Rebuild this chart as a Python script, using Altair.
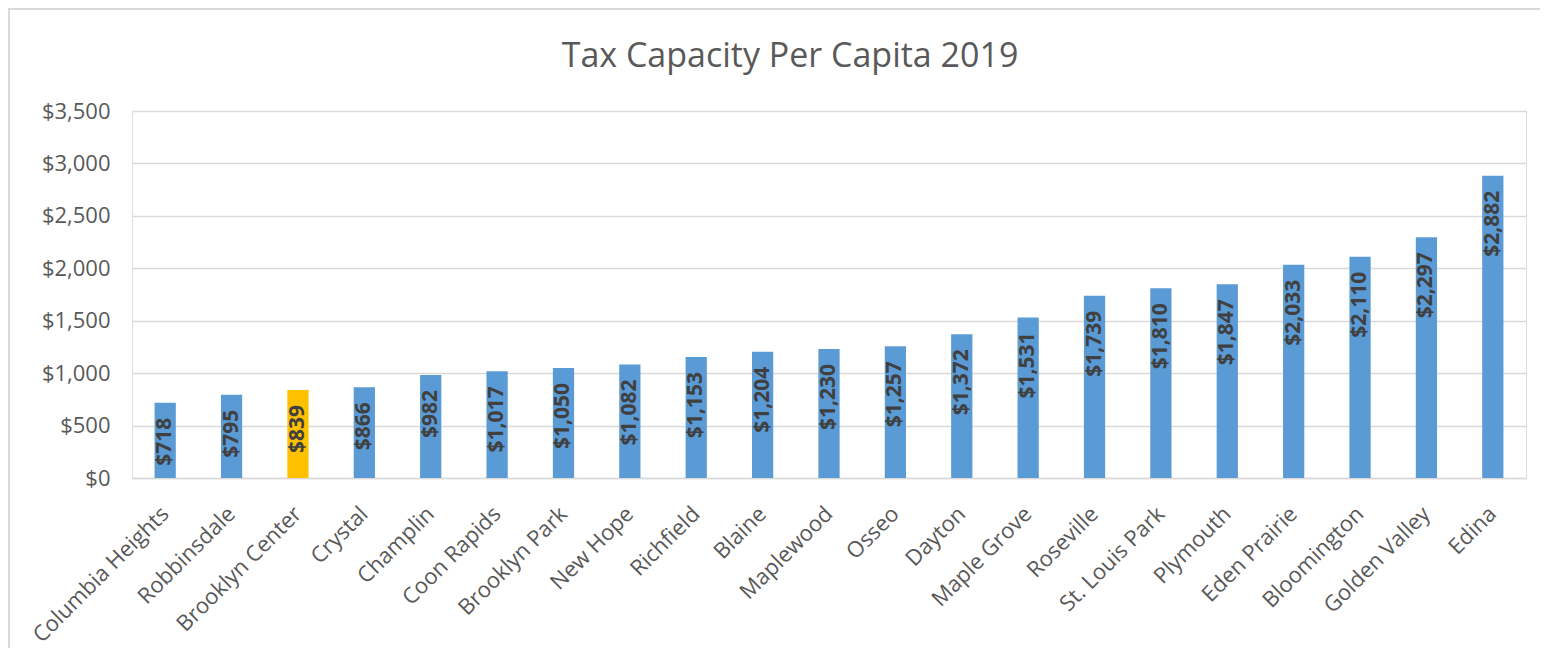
import altair as alt
import pandas as pd

cities = ["Columbia Heights", "Robbinsdale", "Brooklyn Center", "Crystal", "Champlin",
          "Coon Rapids", "Brooklyn Park", "New Hope", "Richfield", "Blaine", "Maplewood",
          "Osseo", "Dayton", "Maple Grove", "Roseville", "St. Louis Park", "Plymouth",
          "Eden Prairie", "Bloomington", "Golden Valley", "Edina"]
values = [718, 795, 839, 866, 982, 1017, 1050, 1082, 1153, 1204, 1230,
          1257, 1372, 1531, 1739, 1810, 1847, 2033, 2110, 2297, 2882]
highlight = "Brooklyn Center"
title_text = "Tax Capacity Per Capita 2019"

df = pd.DataFrame({"city": cities, "value": values})
df["group"] = ["hl" if c == highlight else "base" for c in cities]

FONT = "Open Sans"
W, H = 1394, 367

x_enc = alt.X("city:N", sort=cities, title=None,
              scale=alt.Scale(paddingInner=0.68, paddingOuter=0.34),
              axis=alt.Axis(labelAngle=-45, labelAlign="right", labelBaseline="middle",
                            labelFontSize=22, labelFont=FONT, labelColor="#595959",
                            labelPadding=32, ticks=False, domainColor="#D9D9D9",
                            domainWidth=1.5, grid=False, labelLimit=400))
y_enc = alt.Y("value:Q", title=None,
              scale=alt.Scale(domain=[0, 3500], nice=False),
              axis=alt.Axis(values=[0, 500, 1000, 1500, 2000, 2500, 3000, 3500],
                            format="$,.0f", labelFontSize=22, labelFont=FONT,
                            labelColor="#595959", labelPadding=22, ticks=False,
                            domain=False, gridColor="#D9D9D9", gridWidth=1.5))

base = alt.Chart(df)

bars = base.mark_bar().encode(
    x=x_enc,
    y=y_enc,
    color=alt.Color("group:N", scale=alt.Scale(domain=["base", "hl"],
                                               range=["#5B9BD5", "#FFC000"]),
                    legend=None),
)

labels = base.mark_text(angle=270, align="right", baseline="middle", dx=-15,
                        font=FONT, fontSize=21, fontWeight="bold",
                        color="#404040").encode(
    x=alt.X("city:N", sort=cities),
    y=alt.Y("value:Q"),
    text=alt.Text("value:Q", format="$,.0f"),
)

one = pd.DataFrame({"t": [title_text]})

title = alt.Chart(one).mark_text(
    font=FONT, fontSize=34, color="#595959", align="center", baseline="alphabetic"
).encode(x=alt.value(658), y=alt.value(-44), text="t:N")

frame_left = alt.Chart(one).mark_rule(color="#D9D9D9", strokeWidth=2).encode(
    x=alt.value(-123), y=alt.value(-103), y2=alt.value(H + 170))
frame_top = alt.Chart(one).mark_rule(color="#D9D9D9", strokeWidth=2).encode(
    y=alt.value(-102), x=alt.value(-124), x2=alt.value(W + 14))

chart = alt.layer(frame_left, frame_top, title, bars, labels).properties(
    width=W, height=H,
    autosize=alt.AutoSizeParams(type="none"),
    padding={"left": 124, "top": 103, "right": 14, "bottom": 170},
).configure_view(stroke=None).configure(background="white")

chart.save("out.html", embed_options={"renderer": "svg", "actions": False})
